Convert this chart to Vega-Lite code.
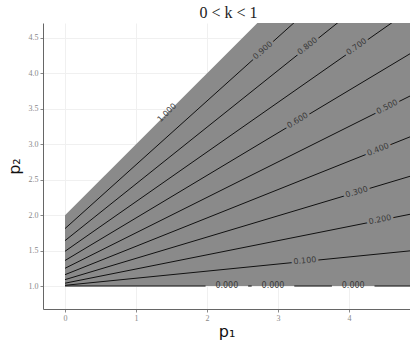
{
  "$schema": "https://vega.github.io/schema/vega-lite/v6.json",
  "width": 367,
  "height": 286,
  "autosize": "none",
  "padding": {"left": 43, "top": 23, "right": 0, "bottom": 35},
  "background": "white",
  "title": {"text": "0 < k < 1", "font": "Liberation Serif", "fontSize": 16, "fontWeight": "normal", "color": "#222", "offset": 2, "dx": 2},
  "config": {"view": {"stroke": null}},
  "datasets": {
    "region": [
      {"p1": 0, "lo": 1, "hi": 2},
      {"p1": 5, "lo": 1, "hi": 7}
    ],
    "lines": [
      {"seg": "0a", "p1": 0, "p2": 1.0}, {"seg": "0a", "p1": 1.98, "p2": 1.0},
      {"seg": "0b", "p1": 2.58, "p2": 1.0}, {"seg": "0b", "p1": 2.63, "p2": 1.0},
      {"seg": "0c", "p1": 3.23, "p2": 1.0}, {"seg": "0c", "p1": 3.76, "p2": 1.0},
      {"seg": "0d", "p1": 4.36, "p2": 1.0}, {"seg": "0d", "p1": 5, "p2": 1.0},
      {"seg": "0.1", "p1": 0, "p2": 1.01}, {"seg": "0.1", "p1": 5, "p2": 1.51},
      {"seg": "0.2", "p1": 0, "p2": 1.04}, {"seg": "0.2", "p1": 5, "p2": 2.04},
      {"seg": "0.3", "p1": 0, "p2": 1.09}, {"seg": "0.3", "p1": 5, "p2": 2.59},
      {"seg": "0.4", "p1": 0, "p2": 1.16}, {"seg": "0.4", "p1": 5, "p2": 3.16},
      {"seg": "0.5", "p1": 0, "p2": 1.25}, {"seg": "0.5", "p1": 5, "p2": 3.75},
      {"seg": "0.6", "p1": 0, "p2": 1.36}, {"seg": "0.6", "p1": 5, "p2": 4.36},
      {"seg": "0.7", "p1": 0, "p2": 1.49}, {"seg": "0.7", "p1": 5, "p2": 4.99},
      {"seg": "0.8", "p1": 0, "p2": 1.64}, {"seg": "0.8", "p1": 5, "p2": 5.64},
      {"seg": "0.9", "p1": 0, "p2": 1.81}, {"seg": "0.9", "p1": 5, "p2": 6.31}
    ],
    "labels": [
      {"z": 1.0, "label": "1.000", "p1": 1.44, "p2": 3.44},
      {"z": 0.9, "label": "0.900", "p1": 2.79, "p2": 4.32},
      {"z": 0.8, "label": "0.800", "p1": 3.42, "p2": 4.38},
      {"z": 0.7, "label": "0.700", "p1": 4.11, "p2": 4.37},
      {"z": 0.6, "label": "0.600", "p1": 3.28, "p2": 3.33},
      {"z": 0.5, "label": "0.500", "p1": 4.54, "p2": 3.52},
      {"z": 0.4, "label": "0.400", "p1": 4.41, "p2": 2.92},
      {"z": 0.3, "label": "0.300", "p1": 4.11, "p2": 2.32},
      {"z": 0.2, "label": "0.200", "p1": 4.44, "p2": 1.93},
      {"z": 0.1, "label": "0.100", "p1": 3.38, "p2": 1.35},
      {"z": 0.0, "label": "0.000", "p1": 2.28, "p2": 1.0},
      {"z": 0.0, "label": "0.000", "p1": 2.93, "p2": 1.0},
      {"z": 0.0, "label": "0.000", "p1": 4.06, "p2": 1.0}
    ]
  },
  "encoding": {
    "x": {"field": "p1", "type": "quantitative", "scale": {"domain": [-0.31, 4.86], "nice": false, "zero": false},
      "axis": {"title": "p₁", "values": [0, 1, 2, 3, 4], "format": "d", "grid": true, "gridColor": "#f0f0f0",
        "labelFont": "Liberation Serif", "labelFontSize": 8, "labelColor": "#888", "tickColor": "#888", "tickSize": 3,
        "domainColor": "#666", "labelPadding": 2, "titleFont": "DejaVu Sans", "titleFontSize": 16, "titleFontWeight": "normal", "titleColor": "#111", "titlePadding": 1}},
    "y": {"field": "p2", "type": "quantitative", "scale": {"domain": [0.676, 4.71], "nice": false, "zero": false},
      "axis": {"title": "p₂", "values": [1, 1.5, 2, 2.5, 3, 3.5, 4, 4.5], "format": ".1f", "grid": true, "gridColor": "#f0f0f0",
        "labelFont": "Liberation Serif", "labelFontSize": 8, "labelColor": "#888", "tickColor": "#888", "tickSize": 3,
        "domainColor": "#666", "labelPadding": 2, "titleFont": "DejaVu Sans", "titleFontSize": 16, "titleFontWeight": "normal", "titleColor": "#111", "titlePadding": 6}}
  },
  "layer": [
    {
      "data": {"name": "region"},
      "mark": {"type": "area", "color": "#8a8a8a", "opacity": 1, "clip": true},
      "encoding": {"y": {"field": "lo", "type": "quantitative"}, "y2": {"field": "hi"}}
    },
    {
      "data": {"name": "lines"},
      "mark": {"type": "line", "color": "#111", "strokeWidth": 1, "clip": true},
      "encoding": {"detail": {"field": "seg", "type": "nominal"}}
    },
    {
      "data": {"name": "labels"},
      "transform": [{"filter": "datum.z > 0 && datum.z < 1"}],
      "mark": {"type": "text", "font": "DejaVu Sans", "fontSize": 8, "baseline": "middle", "stroke": "#8a8a8a", "strokeWidth": 5, "color": "#8a8a8a"},
      "encoding": {"text": {"field": "label"},
        "angle": {"field": "z", "type": "quantitative", "scale": {"domain": [0, 0.2, 0.4, 0.6, 0.8, 1], "range": [0, -11.3, -21.8, -31, -38.7, -45]}, "legend": null}}
    },
    {
      "data": {"name": "labels"},
      "mark": {"type": "text", "font": "DejaVu Sans", "fontSize": 8, "baseline": "middle", "color": "#3a3a3a"},
      "encoding": {"text": {"field": "label"},
        "angle": {"field": "z", "type": "quantitative", "scale": {"domain": [0, 0.2, 0.4, 0.6, 0.8, 1], "range": [0, -11.3, -21.8, -31, -38.7, -45]}, "legend": null}}
    },
    {
      "data": {"values": [{}]},
      "mark": {"type": "rule", "color": "#555", "strokeWidth": 1},
      "encoding": {"y": {"datum": 4.71}, "x": {"datum": -0.31}, "x2": {"datum": 4.86}}
    }
  ]
}
